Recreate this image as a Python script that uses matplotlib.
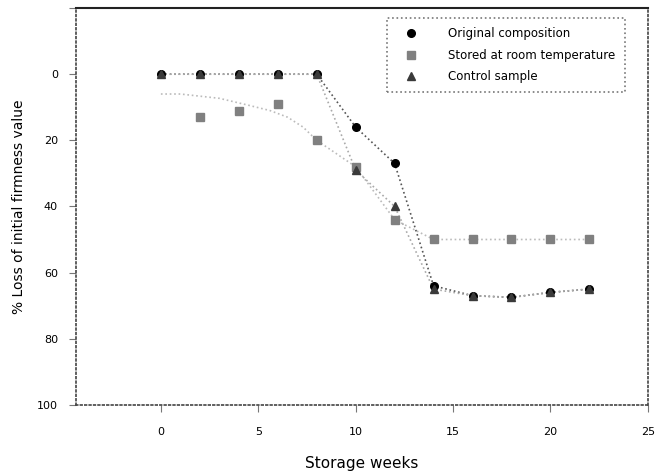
import matplotlib
matplotlib.use('Agg')
import matplotlib.pyplot as plt
import numpy as np

weeks = [0, 2, 4, 6, 8, 10, 12, 14, 16, 18, 20, 22]

# % loss per series
original = [0, 0, 0, 0, 0, 16, 27, 64, 67, 67.5, 66, 65]
treated = [None, 13, 11, 9, 20, 28, 44, 50, 50, 50, 50, 50]
control = [0, 0, 0, 0, 0, 29, 40, 65, 67, 67.5, 66, 65]

# dotted trend for the square series (does not pass through the markers)
trend_x = [0, 1, 3, 4.5, 5.6, 6.5, 7.3, 8, 10, 12, 14, 16, 18, 20, 22]
trend_y = [6, 6, 7.3, 9.4, 11, 13, 16, 20, 28, 44, 50, 50, 50, 50, 50]

labels = ['Original composition', 'Stored at room temperature', 'Control sample']

fig = plt.figure(figsize=(6.55, 4.74), dpi=100)
ax = fig.add_axes([0.116, 0.146, 0.873, 0.837])

sq_x = [w for w, v in zip(weeks, treated) if v is not None]
sq_y = [v for v in treated if v is not None]

ax.plot(weeks, original, ':', color='#555555', lw=1.2, zorder=1)
ax.plot(trend_x, trend_y, ':', color='#bbbbbb', lw=1.2, zorder=1)
ax.plot(weeks, control, ':', color='#aaaaaa', lw=1.2, zorder=1)

ax.plot(weeks, original, 'o', color='black', ms=5.5, ls='none', label=labels[0], zorder=3)
ax.plot(sq_x, sq_y, 's', color='#808080', ms=6, ls='none', label=labels[1], zorder=2)
ax.plot(weeks, control, '^', color='#3a3a3a', ms=6, ls='none', label=labels[2], zorder=4)

ax.set_xlim(-4.36, 25)
ax.set_ylim(100, -20)
ax.set_xticks([0, 5, 10, 15, 20, 25])
ax.set_yticks([-20, 0, 20, 40, 60, 80, 100])
ax.set_yticklabels(['', '0', '20', '40', '60', '80', '100'])

ax.set_xlabel('Storage weeks', fontsize=11, labelpad=14)
ax.set_ylabel('% Loss of initial firmness value', fontsize=10, labelpad=8)
ax.tick_params(labelsize=8, length=5, color='#777777', pad=8)
ax.tick_params(axis='x', pad=11)

ax.spines['top'].set_color('#222222')
ax.spines['top'].set_linewidth(1.5)
for side in ['left', 'right', 'bottom']:
    ax.spines[side].set_linestyle(':')
    ax.spines[side].set_color('#444444')
    ax.spines[side].set_linewidth(1.2)

leg = ax.legend(loc='upper right', bbox_to_anchor=(0.97, 0.99), fontsize=8.5,
                frameon=True, fancybox=False, handlelength=2.6, handletextpad=1.8,
                borderpad=0.8, labelspacing=0.7)
leg.get_frame().set_linestyle(':')
leg.get_frame().set_edgecolor('#555555')
leg.get_frame().set_linewidth(1.2)

fig.savefig('out.png', dpi=100)
